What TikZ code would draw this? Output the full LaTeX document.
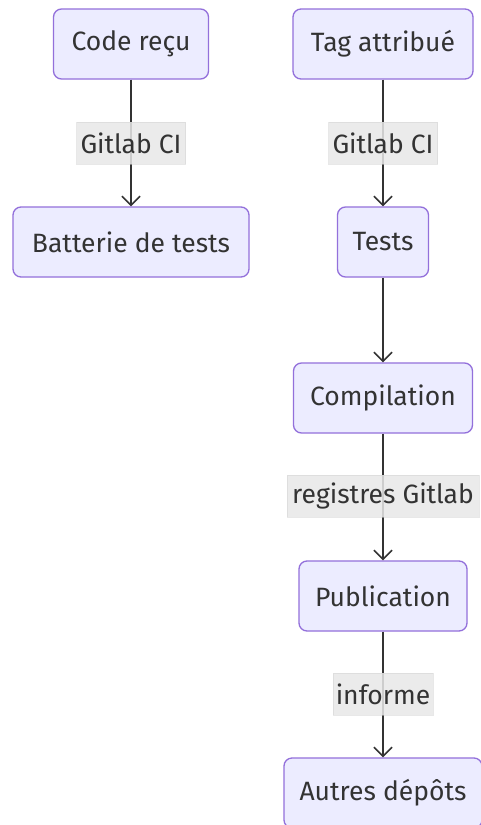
\documentclass[tikz,border=0pt]{standalone}
\usepackage{fontspec}
\setmainfont{Fira Sans}
\usetikzlibrary{arrows.meta}
\definecolor{boxfill}{HTML}{ECECFF}
\definecolor{boxline}{HTML}{9370DB}
\definecolor{ink}{HTML}{333333}
\definecolor{lblfill}{HTML}{E8E8E8}
\tikzset{
  stepbox/.style={draw=boxline, fill=boxfill, rounded corners=8pt, line width=1.3pt,
    minimum height=70pt, inner sep=0pt, text=ink, font=\fontsize{26.5}{30}\selectfont},
  edgelbl/.style={fill=lblfill, fill opacity=0.85, text opacity=1, draw=lblfill!80!gray, draw opacity=0.5,
    minimum height=42pt, inner sep=0pt, text=ink, font=\fontsize{26.5}{30}\selectfont},
  flow/.style={draw=ink, line width=1.4pt, -{Straight Barb[length=9pt,width=18pt,line width=1.6pt]}},
}
\begin{document}
\begin{tikzpicture}[x=1pt,y=-1pt]
\clip (0,0) rectangle (481,825);
\fill[white] (0,0) rectangle (481,825);
% left column
\node[stepbox, minimum width=155pt] (code) at (131,44) {Code reçu};
\node[stepbox, minimum width=236pt] (batt) at (131,242) {Batterie de tests};
% right column
\node[stepbox, minimum width=180pt] (tag) at (383,44) {Tag attribué};
\node[stepbox, minimum width=91pt] (tests) at (383,242) {Tests};
\node[stepbox, minimum width=179pt] (comp) at (383,398) {Compilation};
\node[stepbox, minimum width=168pt] (pub) at (383,596) {Publication};
\node[stepbox, minimum width=198pt] (autres) at (383,793) {Autres dépôts};
% connectors
\draw[flow] (code) -- (batt);
\draw[flow] (tag) -- (tests);
\draw[flow] (tests) -- (comp);
\draw[flow] (comp) -- (pub);
\draw[flow] (pub) -- (autres);
% edge labels
\node[edgelbl, minimum width=109pt] (l1) at (131,143) {Gitlab CI};
\node[edgelbl, minimum width=109pt] (l2) at (383,143) {Gitlab CI};
\node[edgelbl, minimum width=192pt] (l3) at (383,496) {registres Gitlab};
\node[edgelbl, minimum width=100pt] (l4) at (383,694) {informe};
\end{tikzpicture}
\end{document}
